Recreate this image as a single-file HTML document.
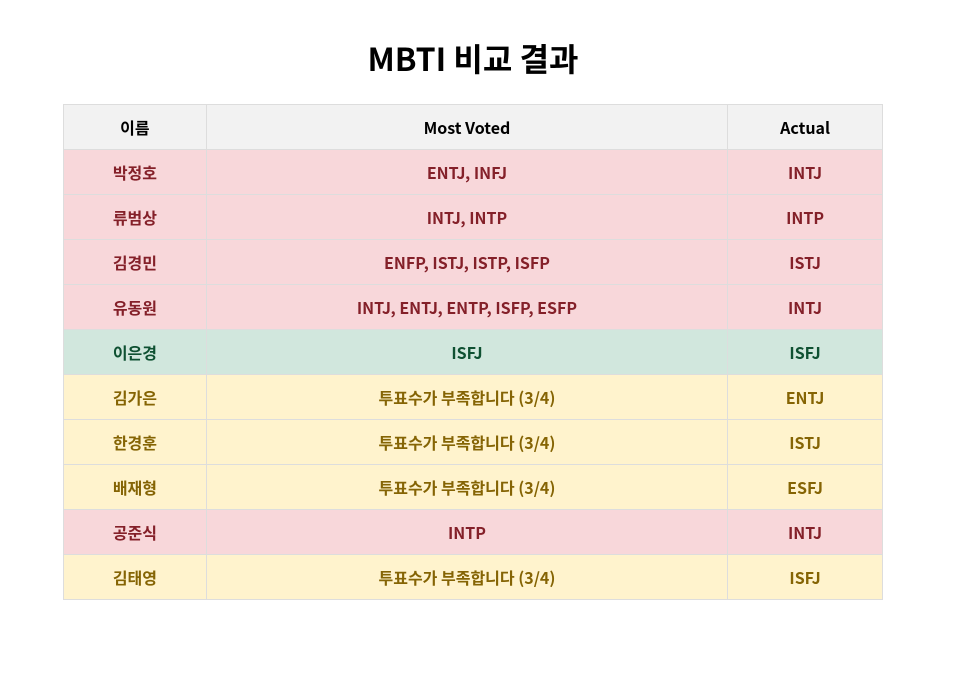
<!DOCTYPE html>
<html><head><meta charset="utf-8"><style>
html,body{margin:0;padding:0;background:#fff;width:973px;height:691px;overflow:hidden}
body{font-family:"Liberation Sans","Noto Sans CJK KR",sans-serif}
h1{margin:0;position:absolute;top:36px;left:0;width:946px;text-align:center;font-size:32px;font-weight:bold;line-height:44px;font-family:"Noto Sans CJK KR","Liberation Sans",sans-serif}
table{position:absolute;left:63px;top:104px;width:820px;border-collapse:collapse;font-family:"Noto Sans CJK KR","Liberation Sans",sans-serif}
td,th{border:1px solid #ddd;height:44px;padding:0;text-align:center;font-size:16px;font-weight:bold}
th{background:#f2f2f2;color:#000}
tr.r td{background:#f8d7da;color:#842029}
tr.g td{background:#d1e7dd;color:#0f5132}
tr.y td{background:#fff3cd;color:#856404}
</style></head><body>
<h1>MBTI 비교 결과</h1>
<table>
<colgroup><col style="width:143px"><col style="width:522px"><col style="width:155px"></colgroup>
<tr><th>이름</th><th>Most Voted</th><th>Actual</th></tr>
<tr class="r"><td>박정호</td><td>ENTJ, INFJ</td><td>INTJ</td></tr>
<tr class="r"><td>류범상</td><td>INTJ, INTP</td><td>INTP</td></tr>
<tr class="r"><td>김경민</td><td>ENFP, ISTJ, ISTP, ISFP</td><td>ISTJ</td></tr>
<tr class="r"><td>유동원</td><td>INTJ, ENTJ, ENTP, ISFP, ESFP</td><td>INTJ</td></tr>
<tr class="g"><td>이은경</td><td>ISFJ</td><td>ISFJ</td></tr>
<tr class="y"><td>김가은</td><td>투표수가 부족합니다 (3/4)</td><td>ENTJ</td></tr>
<tr class="y"><td>한경훈</td><td>투표수가 부족합니다 (3/4)</td><td>ISTJ</td></tr>
<tr class="y"><td>배재형</td><td>투표수가 부족합니다 (3/4)</td><td>ESFJ</td></tr>
<tr class="r"><td>공준식</td><td>INTP</td><td>INTJ</td></tr>
<tr class="y"><td>김태영</td><td>투표수가 부족합니다 (3/4)</td><td>ISFJ</td></tr>
</table>
</body></html>
